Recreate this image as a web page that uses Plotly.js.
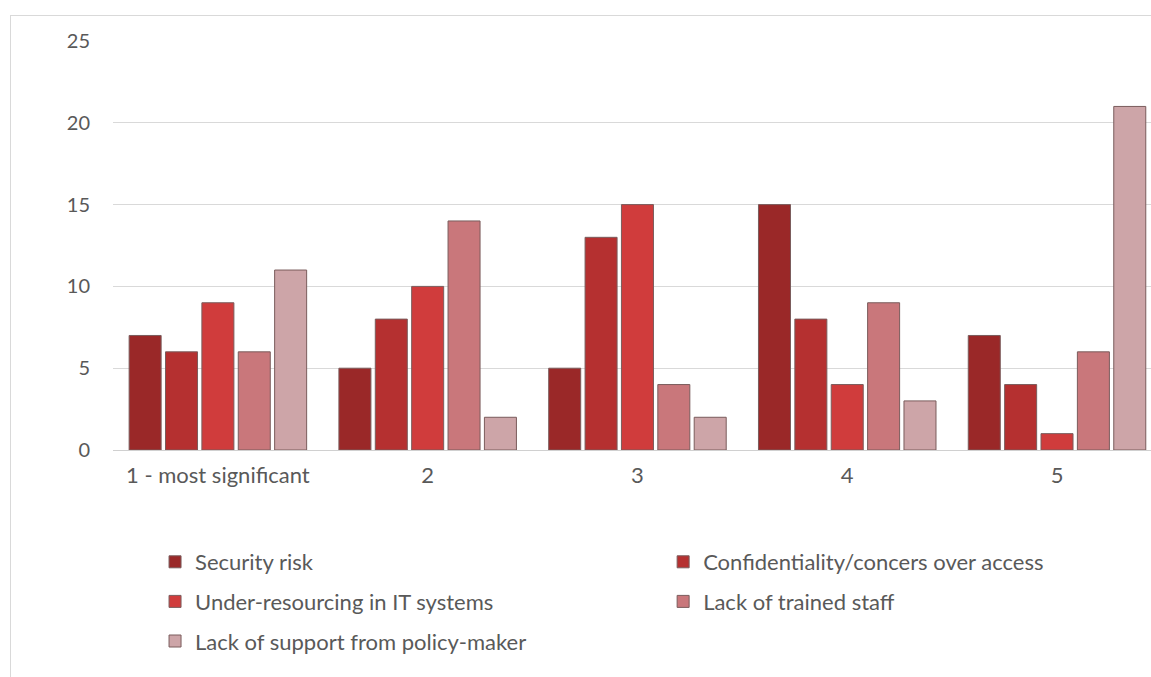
<!DOCTYPE html>
<html>
<head>
<meta charset="utf-8">
<script src="https://cdn.plot.ly/plotly-3.0.1.min.js"></script>
<style>
  html, body { margin: 0; padding: 0; background: #ffffff; }
  #frame { position: absolute; left: 10px; top: 15px; width: 1141px; height: 662px;
           border-left: 1px solid #d9d9d9; border-top: 1px solid #d9d9d9; pointer-events: none; }
  #chart { position: absolute; left: 0; top: 0; width: 1151px; height: 677px; }
</style>
</head>
<body>
<div id="chart"></div>
<div id="frame"></div>
<script>
const categories = ["1 - most significant", "2", "3", "4", "5"];
const seriesNames = [
  "Security risk",
  "Confidentiality/concers over access",
  "Under-resourcing in IT systems",
  "Lack of trained staff",
  "Lack of support from policy-maker"
];
const securityRisk = [7, 5, 5, 15, 7];
const confidentiality = [6, 8, 13, 8, 4];
const underResourcing = [9, 10, 15, 4, 1];
const trainedStaff = [6, 14, 4, 9, 6];
const policySupport = [11, 2, 2, 3, 21];
const yTicks = [0, 5, 10, 15, 20, 25];

const seriesValues = [securityRisk, confidentiality, underResourcing, trainedStaff, policySupport];
const colors = ["#9a2828", "#b53030", "#d03c3c", "#c9777b", "#cda5a8"];
// left column: legend, right column: legend2
const legendIds = ["legend", "legend2", "legend", "legend2", "legend"];

const FONT = "Lato, 'Open Sans', sans-serif";
const TXT = "#595959";

const traces = seriesNames.map((name, i) => ({
  type: "bar",
  name: name,
  x: categories,
  y: seriesValues[i],
  legend: legendIds[i],
  legendgroup: "g" + i,
  marker: { color: colors[i], line: { color: "#7a5c5c", width: 1 } },
  hoverinfo: "x+y+name"
}));

function legendCfg(xp) {
  return {
    orientation: "v",
    xref: "paper", yref: "paper",
    x: xp, xanchor: "left",
    y: -0.2225, yanchor: "top",
    font: { family: FONT, size: 22, color: TXT },
    bgcolor: "rgba(0,0,0,0)",
    borderwidth: 0,
    itemwidth: 30,
    traceorder: "grouped",
    tracegroupgap: 8
  };
}

const layout = {
  width: 1151, height: 677,
  margin: { l: 113, r: 0, t: 41, b: 227 },
  paper_bgcolor: "#ffffff", plot_bgcolor: "#ffffff",
  font: { family: FONT, size: 22, color: TXT },
  barmode: "group",
  bargap: 0.133,
  bargroupgap: 0.12,
  showlegend: true,
  xaxis: {
    type: "category",
    range: [-0.5, 4.448],
    showgrid: false,
    showline: false,
    zeroline: false,
    ticks: "",
    ticklabelstandoff: 10,
    tickfont: { family: FONT, size: 22, color: TXT },
    fixedrange: true
  },
  yaxis: {
    range: [0, 25],
    tickvals: yTicks,
    showgrid: true,
    gridcolor: "#d9d9d9",
    gridwidth: 1,
    zeroline: true,
    zerolinecolor: "#d0d0d0",
    zerolinewidth: 1,
    showline: false,
    ticks: "",
    ticklabelstandoff: 22,
    tickfont: { family: FONT, size: 20, color: TXT },
    fixedrange: true
  },
  legend: legendCfg(0.0405),
  legend2: legendCfg(0.53)
};

Plotly.newPlot("chart", traces, layout, { displayModeBar: false });
</script>
</body>
</html>
